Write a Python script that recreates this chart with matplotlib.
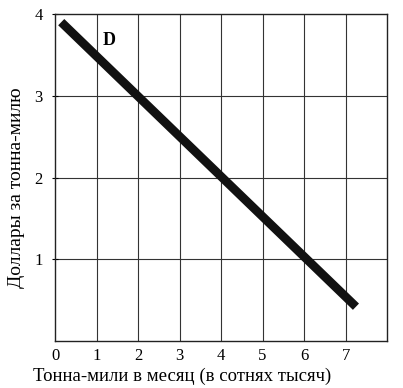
import matplotlib.pyplot as plt

# Demand line D
quantity = [0.15, 7.25]
price = [3.9, 0.42]

x_ticks = [0, 1, 2, 3, 4, 5, 6, 7]
y_ticks = [1, 2, 3, 4]

plt.rcParams['font.family'] = ['Liberation Serif', 'DejaVu Serif']

fig = plt.figure(figsize=(4.03, 3.88), dpi=100)
ax = fig.add_axes([0.1365, 0.121, 0.824, 0.843])

# Grid lines at every integer
for x in range(1, 8):
    ax.axvline(x, color='#333333', linewidth=0.8, zorder=1)
for y in [1, 2, 3]:
    ax.axhline(y, color='#333333', linewidth=0.8, zorder=1)

ax.plot(quantity, price, color='#111111', linewidth=6.3, solid_capstyle='butt', zorder=3)
ax.text(1.3, 3.68, 'D', fontsize=13, fontweight='bold', ha='center', va='center')

ax.set_xlim(0, 8)
ax.set_ylim(0, 4)
ax.set_xticks(x_ticks)
ax.set_yticks(y_ticks)
ax.tick_params(axis='x', length=0, pad=5, labelsize=12)
ax.tick_params(axis='y', length=4, direction='inout', pad=7, labelsize=12)

for s in ax.spines.values():
    s.set_color('#222222')
    s.set_linewidth(1.0)

# axis titles placed like the scan (x title sits left of centre)
fig.text(0.452, 0.031, 'Тонна-мили в месяц (в сотнях тысяч)', fontsize=13.5,
         ha='center', va='center')
fig.text(0.042, 0.515, 'Доллары за тонна-милю', fontsize=14, rotation=90,
         ha='center', va='center')

fig.savefig('out.png', dpi=100)
